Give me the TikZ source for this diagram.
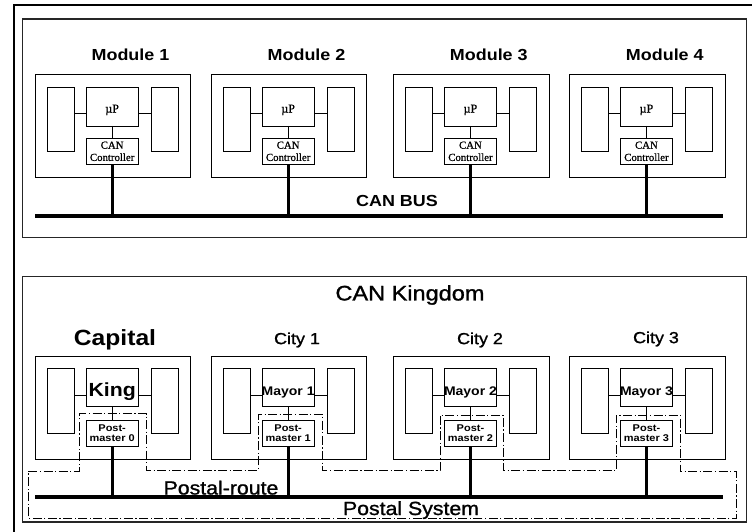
\documentclass[tikz,border=0pt]{standalone}
\usepackage{fontspec}
\setmainfont[FakeStretch=1.12]{Liberation Sans}
\newfontfamily\medsans[FakeStretch=1.12,FakeBold=1.2]{Liberation Sans}
\newfontfamily\serifx[FakeBold=0.8]{Liberation Serif}
\usetikzlibrary{calc}
\begin{document}
\begin{tikzpicture}[x=1pt,y=-1pt,
  frame/.style={draw=black!85, line width=1.3pt},
  modbox/.style={draw, line width=0.9pt, anchor=north west, inner sep=0pt, outer sep=0pt, minimum width=155.7pt, minimum height=103pt},
  sidebox/.style={draw, line width=0.9pt, anchor=north west, inner sep=0pt, outer sep=0pt, minimum width=27pt, minimum height=#1},
  cbox/.style={draw, line width=0.9pt, anchor=north west, inner sep=0pt, outer sep=0pt, minimum width=52.3pt, minimum height=#1, align=center},
  conn/.style={line width=0.9pt},
  busline/.style={line width=4pt},
  drop/.style={line width=3.2pt},
  modlabel/.style={font=\fontsize{16}{18}\selectfont\bfseries},
  citylabel/.style={font=\medsans\fontsize{16}{18}\selectfont},
  serifsmall/.style={font=\serifx\fontsize{10.8}{12.2}\selectfont, align=center},
  postal/.style={draw, line width=0.9pt, dash pattern=on 9pt off 2.5pt on 1.2pt off 2.5pt}
]
\useasboundingbox (0,0) rectangle (752,532);
\clip (0,0) rectangle (752,532);
% outer frame (partly outside the picture)
\draw[line width=2.6pt] (14,5) rectangle (770,550);
% section frames
\draw[frame] (22.5,19) rectangle (746.5,237.5);
\draw[frame] (22.5,276.7) rectangle (746.5,522);

% ---------- top: CAN bus ----------
\coordinate (busL) at (35,216);
\coordinate (busR) at (722.7,216);
\draw[busline] (busL) -- (busR);
\node[modlabel] (canbus) at (397,201) {CAN BUS};
\foreach \i/\x in {1/35,2/211,3/393.3,4/569.3}{
  \node[modbox] (mod\i) at (\x,74) {};
  \node[modlabel] (ml\i) at (\x+95.5,55) {Module \i};
  \node[sidebox=63.3pt] (l\i) at (\x+12.5,87.7) {};
  \node[sidebox=63.3pt] (r\i) at (\x+116,87.7) {};
  \node[cbox=38.3pt] (up\i) at (\x+51,87.7) {};
  \node[font=\serifx\fontsize{12}{13}\selectfont] (uptext\i) at ([yshift=-3pt]up\i.center) {µP};
  \node[cbox=26pt, serifsmall] (cc\i) at (\x+51,138.3) {CAN\\Controller};
  \coordinate (ca\i) at ($(l\i.north east)+(0,25.6)$);
  \draw[conn] (ca\i) -- (ca\i -| up\i.west);
  \draw[conn] (up\i.east |- ca\i) -- (ca\i -| r\i.west);
  \draw[conn] (up\i.south) -- (cc\i.north);
  \draw[drop] (cc\i.south) -- (cc\i.south |- busL);
}

% ---------- bottom: CAN Kingdom ----------
\node[font=\medsans\fontsize{21}{24}\selectfont] (kingdom) at (410,295) {CAN Kingdom};
\coordinate (pbL) at (35,497.3);
\coordinate (pbR) at (722.7,497.3);
\draw[postal] (28.3,471) -- (79.3,471) -- (79.3,413.6) -- (146.7,413.6) -- (146.7,470.5)
  -- (258.3,470.5) -- (258.3,414.3) -- (322.7,414.3) -- (322.7,470.5)
  -- (440,470.5) -- (440,415) -- (503.3,415) -- (503.3,470.5)
  -- (616,470.5) -- (616,415) -- (680,415) -- (680,471.5)
  -- (736.7,471.5) -- (736.7,518.3) -- (28.3,518.3) -- cycle;
\draw[busline] (pbL) -- (pbR);
\node[font=\medsans\fontsize{19}{22}\selectfont, anchor=base] (route) at (221,494.5) {Postal-route};
\node[font=\medsans\fontsize{19}{22}\selectfont, anchor=base] (psys) at (411,515) {Postal System};

\node[font=\fontsize{22}{24}\selectfont\bfseries] (capital) at (115,340) {Capital};
\foreach \i/\x in {0/35,1/211,2/393.3,3/569.3}{
  \node[modbox, minimum height=102.6pt] (city\i) at (\x,356.7) {};
  \node[sidebox=65pt] (cl\i) at (\x+12.5,368.3) {};
  \node[sidebox=65pt] (cr\i) at (\x+116,368.3) {};
  \node[cbox=38.4pt] (ru\i) at (\x+51,368.3) {};
  \node[cbox=25.3pt, font=\fontsize{9.8}{11}\selectfont\bfseries] (pm\i) at (\x+51,420.7) {Post-\\[-1pt]master \i};
  \coordinate (cb\i) at ($(cl\i.north east)+(0,26.7)$);
  \draw[conn] (cb\i) -- (cb\i -| ru\i.west);
  \draw[conn] (ru\i.east |- cb\i) -- (cb\i -| cr\i.west);
  \draw[conn] (ru\i.south) -- (pm\i.north);
  \draw[drop] (pm\i.south) -- (pm\i.south |- pbL);
}
\node[font=\fontsize{19}{22}\selectfont\bfseries] (king) at ([yshift=-4pt]ru0.center) {King};
\foreach \i in {1,2,3}{
  \node[font=\fontsize{12.5}{14}\selectfont\bfseries] (mayor\i) at ([yshift=-4.5pt]ru\i.center) {Mayor \i};
}
\node[citylabel] (c1) at (297,340) {City 1};
\node[citylabel] (c2) at (480,340) {City 2};
\node[citylabel] (c3) at (656,339) {City 3};
\end{tikzpicture}
\end{document}
